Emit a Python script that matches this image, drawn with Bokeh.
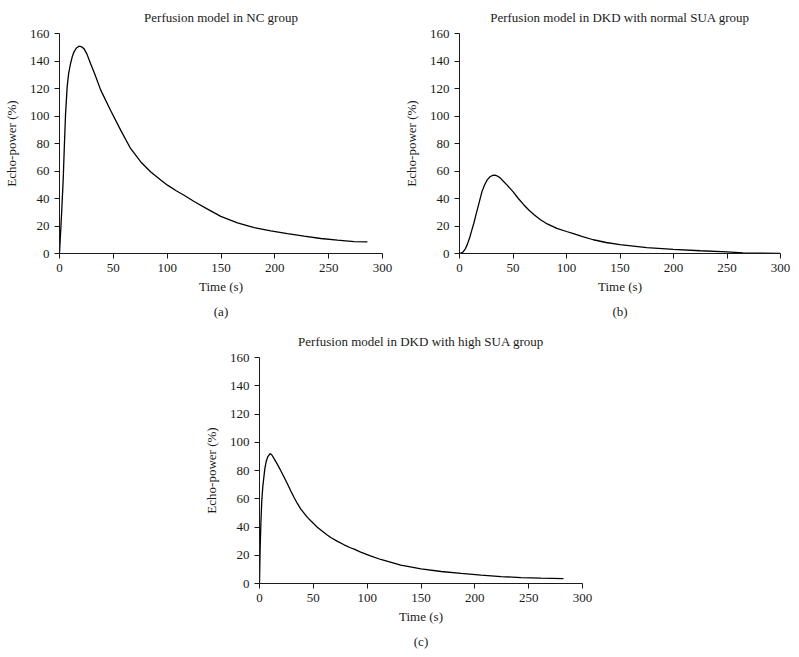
from bokeh.plotting import figure
from bokeh.models import Range1d, Spacer, FixedTicker, LinearAxis
from bokeh.layouts import column, row
from bokeh.embed import file_html
from bokeh.resources import INLINE

# ---- data ----
x_ticks = [0, 50, 100, 150, 200, 250, 300]
y_ticks = [0, 20, 40, 60, 80, 100, 120, 140, 160]

nc_time = [0, 2, 3.4, 4.5, 5.6, 7.1, 8.5, 10.2, 12, 13.4, 15.5, 18, 20, 22.7, 25.5, 28.9,
           33, 38.2, 47.5, 56.8, 66, 75.5, 84.8, 94, 100.3, 108, 115.7, 125, 137.5, 149.8,
           165.3, 180.8, 196.2, 211.7, 227.2, 242.7, 258.2, 273.6, 286]
nc_power = [0, 30, 53, 78, 101, 121, 131, 138, 143.5, 146.5, 149.3, 150.8, 150.5, 149, 145, 138,
            130, 119, 104, 89.7, 76.4, 66.6, 59.3, 53.5, 49.7, 45.8, 42.4, 37.8, 32.3, 27,
            22.3, 18.9, 16.5, 14.5, 12.6, 10.9, 9.7, 8.7, 8.4]

normal_time = [0, 3, 5.6, 7.5, 9.7, 11.5, 13.4, 15, 17, 19, 21, 23.5, 25.9, 28.5, 31, 33, 35,
               38, 41, 44.5, 50, 55, 60, 65, 70, 75.7, 82, 91, 100, 106.5, 115, 125, 137,
               150, 175, 200, 225, 250, 265, 280, 300]
normal_power = [0, 0.8, 3.6, 7, 12, 17, 22, 27, 33, 39, 45, 50, 53.5, 55.8, 56.8, 57, 56.5,
                55, 52.5, 49.7, 45, 40, 35.5, 31.5, 28, 24.5, 21.5, 18.3, 16, 14.5, 12.3, 10, 8,
                6.5, 4.3, 3, 2, 1.2, 0.5, 0.2, 0.1]

high_time = [0, 0.6, 1.3, 2.1, 3, 4, 5, 6.1, 7.5, 9.8, 11.5, 13.8, 16.9, 19.8, 23, 26, 29.1,
             32.1, 35.3, 38.4, 44.5, 47.6, 53.7, 56.9, 62.9, 66.2, 72, 78.6, 84.4, 87.9, 94,
             103, 112.6, 131.2, 150.1, 168.7, 187.3, 205.8, 224.4, 243, 261.6, 282.3]
high_power = [0, 25, 43, 58.5, 68, 75, 81.5, 86, 89.5, 92, 91, 88, 84, 79.8, 75, 70.4, 65.5,
              60.9, 56.5, 52.7, 46.8, 44.4, 39.8, 37.8, 34.3, 32.6, 30, 27.4, 25.3, 24.3, 22.2,
              19.6, 17, 13, 10.3, 8.5, 7.1, 5.9, 4.9, 4.2, 3.8, 3.5]

titles = ["Perfusion model in NC group",
          "Perfusion model in DKD with normal SUA group",
          "Perfusion model in DKD with high SUA group"]
tags = ["(a)", "(b)", "(c)"]

FONT = "Liberation Serif"
FS = "13px"
INK = "#1a1a1a"


def make(title, tag, t, v, width, height, bl, br, bt, bb):
    p = figure(width=width, height=height, output_backend="svg", toolbar_location=None,
               x_range=Range1d(0, 300), y_range=Range1d(0, 160),
               min_border_left=bl, min_border_right=br,
               min_border_top=bt, min_border_bottom=bb,
               background_fill_color="white", border_fill_color="white")
    p.outline_line_color = None
    p.grid.visible = False
    p.title.text = title
    p.title.align = "center"
    p.title.vertical_align = "top"
    p.title.text_font = FONT
    p.title.text_font_size = FS
    p.title.text_font_style = "normal"
    p.title.text_color = INK
    p.title.standoff = 14
    p.xaxis.ticker = FixedTicker(ticks=x_ticks)
    p.yaxis.ticker = FixedTicker(ticks=y_ticks)
    p.xaxis.axis_label = "Time (s)"
    p.yaxis.axis_label = "Echo-power (%)"
    for ax in (p.xaxis, p.yaxis):
        ax.axis_line_color = INK
        ax.major_tick_line_color = INK
        ax.minor_tick_line_color = None
        ax.major_tick_in = 0
        ax.major_tick_out = 5
        ax.major_label_text_font = FONT
        ax.major_label_text_font_size = FS
        ax.major_label_text_color = INK
        ax.axis_label_text_font = FONT
        ax.axis_label_text_font_size = FS
        ax.axis_label_text_font_style = "normal"
        ax.axis_label_text_color = INK
        ax.major_label_standoff = 5
    p.xaxis.axis_label_standoff = 4
    p.yaxis.axis_label_standoff = 8
    # panel tag, drawn as the label of an empty axis under the time axis
    tag_axis = LinearAxis(axis_label=tag, ticker=FixedTicker(ticks=[]),
                          axis_line_color=None, major_tick_line_color=None,
                          minor_tick_line_color=None, major_tick_out=0, major_tick_in=0,
                          major_label_standoff=0, major_label_text_font_size="0px",
                          axis_label_standoff=7, axis_label_text_font=FONT,
                          axis_label_text_font_size=FS, axis_label_text_font_style="normal",
                          axis_label_text_color=INK)
    p.add_layout(tag_axis, "below")
    p.line(t, v, line_color="black", line_width=1.3)
    return p


pa = make(titles[0], tags[0], nc_time, nc_power, 400, 324, 59, 18, 33, 71)
pb = make(titles[1], tags[1], normal_time, normal_power, 390, 324, 59, 10, 33, 71)
pc = make(titles[2], tags[2], high_time, high_power, 400, 330, 59, 18, 33, 71)

layout = column(row(pa, pb), row(Spacer(width=200, height=330), pc))

open("out.html", "w").write(file_html(layout, INLINE))
